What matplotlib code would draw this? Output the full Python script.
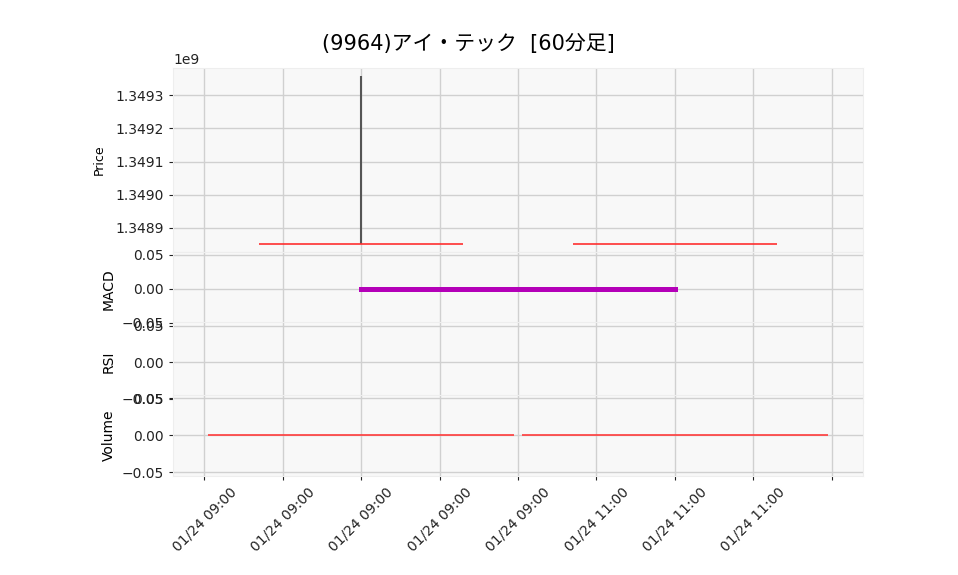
import matplotlib
matplotlib.use("Agg")
import matplotlib.pyplot as plt
import numpy as np
from matplotlib.ticker import FuncFormatter, MultipleLocator

plt.rcParams['font.family'] = ['DejaVu Sans', 'Noto Sans CJK JP']

# data
dates = ["01/24 09:00", "01/24 11:00"]
opens = [1.3488515e9, 1.3488515e9]
highs = [1.3493576e9, 1.3488515e9]
lows = [1.3488515e9, 1.3488515e9]
closes = [1.3488515e9, 1.3488515e9]
macd = [0.0, 0.0]
rsi = [np.nan, np.nan]
volume = [0, 0]
title = "(9964)アイ・テック  [60分足]"

idx = np.arange(len(dates))
bg = '#f8f8f8'
gridc = '#d0d0d0'

fig = plt.figure(figsize=(9.58, 5.75), dpi=100)
W, H = 958, 575
L, R = 173, 863


def make_ax(top, bottom, share=None):
    ax = fig.add_axes([L / W, 1 - bottom / H, (R - L) / W, (bottom - top) / H], sharex=share)
    ax.set_facecolor(bg)
    ax.grid(True, color=gridc, lw=1)
    ax.set_axisbelow(True)
    for s in ax.spines.values():
        s.set_color('#eeeeee')
    ax.tick_params(labelsize=10, colors='#222222', length=3)
    return ax


ax1 = make_ax(68, 252)
ax2 = make_ax(251.6, 326.4, ax1)
ax3 = make_ax(322.3, 402.3, ax1)
ax4 = make_ax(394.5, 476, ax1)

# price
ax1.vlines(idx, lows, highs, color='#555555', lw=1.5, zorder=2)
ax1.bar(idx, np.array(closes) - np.array(opens), bottom=opens, width=0.65,
        color='red', edgecolor='#ff3030', linewidth=1.2, zorder=3)
lo, hi = min(lows), max(highs)
pad = 0.05 * (hi - lo)
ax1.set_ylim(lo - pad, hi + pad)
ax1.ticklabel_format(axis='y', useOffset=False)
ax1.yaxis.set_major_locator(MultipleLocator(1e5))
ax1.set_ylabel('Price', fontsize=9)

# macd
ax2.plot(idx, macd, color='#b400b8', lw=3.6, zorder=3)
ax2.set_ylim(-0.055, 0.055)
ax2.set_yticks([-0.05, 0.0, 0.05])
ax2.set_ylabel('MACD', fontsize=10)

# rsi
ax3.plot(idx, rsi, color='#1f77b4')
ax3.set_ylim(-0.055, 0.055)
ax3.set_yticks([-0.05, 0.0, 0.05])
ax3.set_ylabel('RSI', fontsize=10)

# volume
ax4.bar(idx, volume, width=0.975, color='#ff3c3c', edgecolor='#ff3c3c', linewidth=1.2, zorder=3)
ax4.set_ylim(-0.055, 0.055)
ax4.set_yticks([-0.05, 0.0, 0.05])
ax4.set_ylabel('Volume', fontsize=10)

ax1.set_xlim(-0.6, 1.6)
ax4.xaxis.set_major_locator(MultipleLocator(0.25))


def fmt(x, pos):
    i = int(round(x))
    if 0 <= i < len(dates):
        return dates[i]
    return ''


ax4.xaxis.set_major_formatter(FuncFormatter(fmt))
for ax in (ax1, ax2, ax3):
    ax.tick_params(axis='x', labelbottom=False, length=0)
for lab in ax4.get_xticklabels():
    lab.set_rotation(45)
    lab.set_ha('center')

for ax in (ax1, ax2, ax3, ax4):
    ax.yaxis.set_label_coords(-0.083 if ax is not ax1 else -0.097, 0.5)

fig.text(0.489, 1 - 44 / H, title, ha='center', va='center', fontsize=15)

fig.savefig('out.png', dpi=100)
